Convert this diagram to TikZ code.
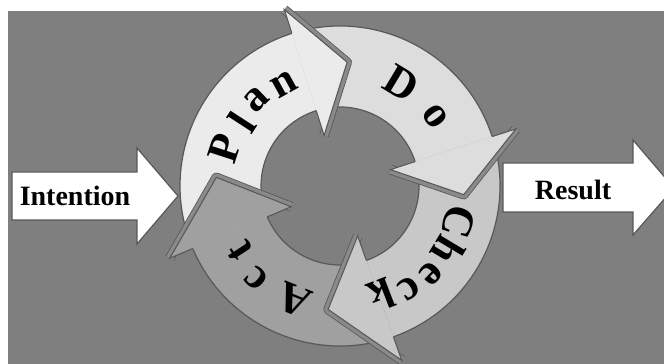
\documentclass[tikz,border=0pt]{standalone}
\usepackage{fontspec}
\setmainfont{Liberation Serif}
\usepackage{tikz}
\usetikzlibrary{positioning}
\definecolor{bggray}{HTML}{7F7F7F}
\definecolor{plangray}{HTML}{EBEBEB}
\definecolor{dogray}{HTML}{DDDDDD}
\definecolor{checkgray}{HTML}{C8C8C8}
\definecolor{actgray}{HTML}{A0A0A0}
\definecolor{edgegray}{HTML}{585858}
\definecolor{bandgray}{HTML}{8A8A8A}
\tikzset{
  flatarrow/.style={fill=white,draw=edgegray,line width=.9pt,line join=miter},
  labeltext/.style={inner sep=0pt,font=\fontsize{21}{21}\selectfont\bfseries},
  cycleletter/.style={inner sep=0pt,font=\fontsize{33}{33}\selectfont\bfseries},
  ringedge/.style={draw=edgegray,line width=.9pt},
  headband/.style={draw=edgegray,double=bandgray,double distance=6pt,
    line width=.6pt,line join=round},
  headedge/.style={draw=edgegray,line width=.8pt,line join=miter}
}

\begin{document}
\begin{tikzpicture}[x=.75pt,y=.75pt]
\useasboundingbox (0,0) rectangle (664,364);
\fill[white] (0,0) rectangle (664,364);
\fill[bggray] (8,0) rectangle (664,353);

\draw[flatarrow] (12,144) -- (137,144) -- (137,120) -- (178,168)
  -- (137,216) -- (137,192) -- (12,192) -- cycle;
\node[labeltext] (intention) at (75,168) {Intention};

\draw[flatarrow] (503,152) -- (633,152) -- (633,129) -- (674,176)
  -- (633,224) -- (633,201) -- (503,201) -- cycle;
\node[labeltext] (result) at (573,174) {Result};

\begin{scope}[shift={(340,178)}]
\foreach \fillc/\from/\to in {plangray/203/107.5,dogray/107.5/18,
  checkgray/18/-70.5,actgray/-70.5/-157}{
  \fill[\fillc] (\from:160) arc[start angle=\from,end angle=\to,radius=160]
    -- (\to:79) arc[start angle=\to,end angle=\from,radius=79] -- cycle;
  \draw[ringedge] (\from:160) arc[start angle=\from,end angle=\to,radius=160];
  \draw[ringedge] (\from:79) arc[start angle=\from,end angle=\to,radius=79];
}
\foreach \fillc/\barb/\tip in {plangray/107.5/86.7,dogray/18/-4,
  checkgray/-70.5/-95.5,actgray/-157/-184}{
  \draw[headband] (\barb:185) -- (\tip:124) -- (\barb:53);
  \fill[\fillc] (\barb:53) -- (\barb:185) -- (\tip:124) -- cycle;
  \draw[headedge] (\barb:160) -- (\barb:185) -- (\tip:124) -- (\barb:53) -- (\barb:79);
}
\foreach \ch/\ang/\rad [count=\i] in {P/162/121,l/147/117,a/134/120,n/119/116,
  D/59/120,o/36/118,
  C/-17/124,h/-31/126,e/-44/126,c/-56/124,k/-69/117,
  A/-112/123,c/-132/125,t/-147/119}
  \node[cycleletter,rotate=\ang-90] (letter-\i) at (\ang:\rad) {\ch};
\end{scope}
\end{tikzpicture}
\end{document}
